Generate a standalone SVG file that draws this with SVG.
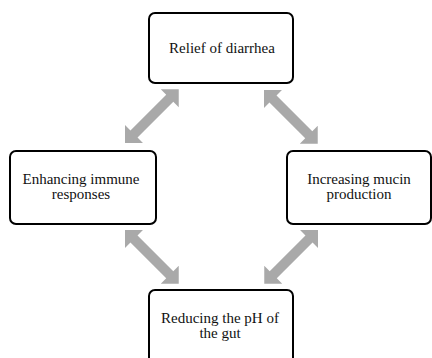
<svg xmlns="http://www.w3.org/2000/svg" xmlns:xlink="http://www.w3.org/1999/xlink" width="432" height="358" viewBox="0 0 432 358">
<style>
.box{fill:#fff;stroke:#000;stroke-width:2}
.lbl{font-family:"Liberation Serif","Times New Roman",serif;font-size:15px;fill:#111;text-anchor:middle}
.arr{fill:#a9a9a9}
</style>
<defs>
<path id="dbl" d="M0,0 L12.7,-12.7 L12.7,-5 L63.3,-5 L63.3,-12.7 L76,0 L63.3,12.7 L63.3,5 L12.7,5 L12.7,12.7 Z"/>
</defs>
<rect width="432" height="358" fill="#fff"/>
<g id="connectors" class="arr">
<use xlink:href="#dbl" transform="translate(125,143) rotate(-45)"/>
<use xlink:href="#dbl" transform="translate(264,90) rotate(45)"/>
<use xlink:href="#dbl" transform="translate(125,230) rotate(45)"/>
<use xlink:href="#dbl" transform="translate(318,230) rotate(135)"/>
</g>
<g id="relief">
<rect class="box" x="149" y="13" width="144" height="70" rx="6"/>
<text class="lbl" x="222" y="53">Relief of diarrhea</text>
</g>
<g id="immune">
<rect class="box" x="10" y="151" width="146" height="73" rx="6"/>
<text class="lbl" x="81" y="184">Enhancing immune</text>
<text class="lbl" x="81" y="199">responses</text>
</g>
<g id="mucin">
<rect class="box" x="287" y="151" width="144" height="73" rx="6"/>
<text class="lbl" x="359" y="184">Increasing mucin</text>
<text class="lbl" x="359" y="199">production</text>
</g>
<g id="ph">
<rect class="box" x="149" y="290" width="144" height="80" rx="6"/>
<text class="lbl" x="220" y="323">Reducing the pH of</text>
<text class="lbl" x="220" y="338">the gut</text>
</g>
</svg>
